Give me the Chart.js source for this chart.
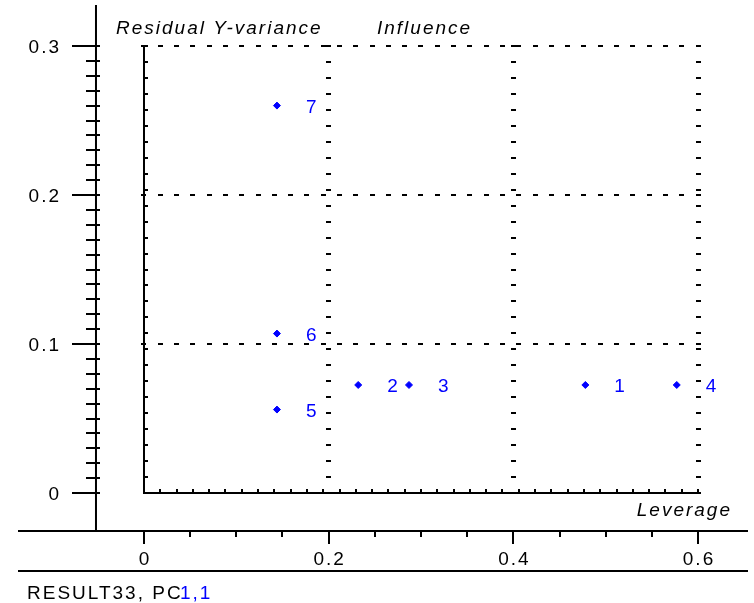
<!DOCTYPE html>
<html>
<head>
<meta charset="utf-8">
<script src="https://cdn.jsdelivr.net/npm/chart.js@4/dist/chart.umd.min.js"></script>
<style>
  html, body { margin: 0; padding: 0; background: #fff; }
  #plot { display: block; }
</style>
</head>
<body>
<canvas id="plot" width="754" height="603"></canvas>
<script>
// sample names and values
const names = ['1', '2', '3', '4', '5', '6', '7'];
const leverage = [0.478, 0.232, 0.287, 0.577, 0.144, 0.144, 0.144];
const residual = [0.0725, 0.0725, 0.0725, 0.0725, 0.056, 0.107, 0.260];

const xTicks = [0, 0.2, 0.4, 0.6];
const xTickLabels = ['0', '0.2', '0.4', '0.6'];
const yTicks = [0, 0.1, 0.2, 0.3];
const yTickLabels = ['0', '0.1', '0.2', '0.3'];

const blue = '#0000ff';
const font = '"Liberation Sans", Arial, sans-serif';

function dots(ctx, x1, y1, x2, y2, dx){
    const len = Math.hypot(x2 - x1, y2 - y1);
    const n = Math.round(len / 16.2);
    for(let i = 0; i <= n; i++){
        const px = x1 + (x2 - x1) * i / n;
        const py = y1 + (y2 - y1) * i / n;
        ctx.fillRect(Math.round(px - 2.5 + (dx || 0)), Math.round(py - 1), 5, 2);
    }
}

function line(ctx, x1, y1, x2, y2){
    ctx.beginPath();
    ctx.moveTo(x1, y1);
    ctx.lineTo(x2, y2);
    ctx.stroke();
}

const framePlugin = {
    id: 'frame',
    beforeDatasetsDraw(chart){
        const ctx = chart.ctx;
        const xs = chart.scales.x, ys = chart.scales.y;
        const area = chart.chartArea;
        const x0 = xs.getPixelForValue(0), x6 = xs.getPixelForValue(0.6);
        const y0 = ys.getPixelForValue(0), y3 = ys.getPixelForValue(0.3);
        const axisX = xs.getPixelForValue(-0.052);
        const axisY = area.bottom;

        ctx.save();
        ctx.fillStyle = '#000';
        ctx.strokeStyle = '#000';
        ctx.lineWidth = 2;

        // dotted grid and box
        [0.2, 0.4, 0.6].forEach(v => {
            const px = xs.getPixelForValue(v);
            dots(ctx, px, y3, px, y0);
        });
        [0.1, 0.2, 0.3].forEach(v => {
            const py = ys.getPixelForValue(v);
            dots(ctx, x0, py, x6, py);
        });
        // solid left and bottom borders with small inward ticks
        dots(ctx, x0, y3, x0, y0, 2);
        const nb = Math.round((x6 - x0) / 16.2);
        for(let i = 0; i <= nb; i++){
            const px = x0 + (x6 - x0) * i / nb;
            ctx.fillRect(Math.round(px - 1), Math.round(y0 - 4), 2, 4);
        }
        line(ctx, x0, y3 - 1, x0, y0 + 1);
        line(ctx, x0 - 1, y0, x6 + 1, y0);

        // y axis
        line(ctx, axisX, area.top, axisX, axisY);
        for(let i = 0; i <= 30; i++){
            const py = Math.round(ys.getPixelForValue(i / 100));
            if(i % 10 === 0) line(ctx, axisX - 24, py, axisX + 4, py);
            else line(ctx, axisX - 10, py, axisX + 4, py);
        }
        // x axis
        line(ctx, area.left, axisY, area.right, axisY);
        for(let i = 0; i <= 12; i++){
            const px = Math.round(xs.getPixelForValue(i * 0.05));
            line(ctx, px, axisY, px, axisY + (i % 4 === 0 ? 13 : 6));
        }
        line(ctx, area.left, 571, area.right, 571);

        ctx.font = '19px ' + font;
        ctx.letterSpacing = '2px';
        ctx.textBaseline = 'alphabetic';
        ctx.textAlign = 'right';
        yTicks.forEach((v, i) => {
            ctx.fillText(yTickLabels[i], 61, ys.getPixelForValue(v) + 7);
        });
        ctx.textAlign = 'center';
        xTicks.forEach((v, i) => {
            ctx.fillText(xTickLabels[i], xs.getPixelForValue(v) + 1, 565);
        });

        ctx.font = 'italic 19px ' + font;
        ctx.textAlign = 'left';
        ctx.fillText('Residual Y-variance', 116, 34);
        ctx.fillText('Influence', 377, 34);
        ctx.textAlign = 'right';
        ctx.fillText('Leverage', 732, 516);

        ctx.font = '19px ' + font;
        ctx.textAlign = 'left';
        ctx.fillText('RESULT33, PC', 27, 599);
        ctx.fillStyle = blue;
        ctx.fillText('1,1', 180, 599);
        ctx.restore();
    },
    afterDatasetsDraw(chart){
        const ctx = chart.ctx;
        const pts = chart.getDatasetMeta(0).data;
        ctx.save();
        ctx.font = '19px ' + font;
        ctx.letterSpacing = '2px';
        ctx.fillStyle = blue;
        ctx.textAlign = 'left';
        ctx.textBaseline = 'alphabetic';
        pts.forEach((p, i) => {
            ctx.fillText(names[i], p.x + 29, p.y + 7);
        });
        ctx.restore();
    }
};

const points = leverage.map((v, i) => ({x: v, y: residual[i]}));

new Chart(document.getElementById('plot'), {
    type: 'scatter',
    data: {
        datasets: [{
            label: 'samples',
            data: points,
            pointStyle: 'rectRot',
            radius: 3.5,
            backgroundColor: blue,
            borderColor: blue,
            borderWidth: 1
        }]
    },
    options: {
        responsive: false,
        animation: false,
        devicePixelRatio: 1,
        layout: { padding: { left: 18, right: 6, top: 5, bottom: 72 } },
        plugins: { legend: { display: false }, tooltip: { enabled: false } },
        scales: {
            x: { type: 'linear', min: -0.13646, max: 0.65415, display: false },
            y: { type: 'linear', min: -0.0255, max: 0.32752, display: false }
        }
    },
    plugins: [framePlugin]
});
</script>
</body>
</html>
